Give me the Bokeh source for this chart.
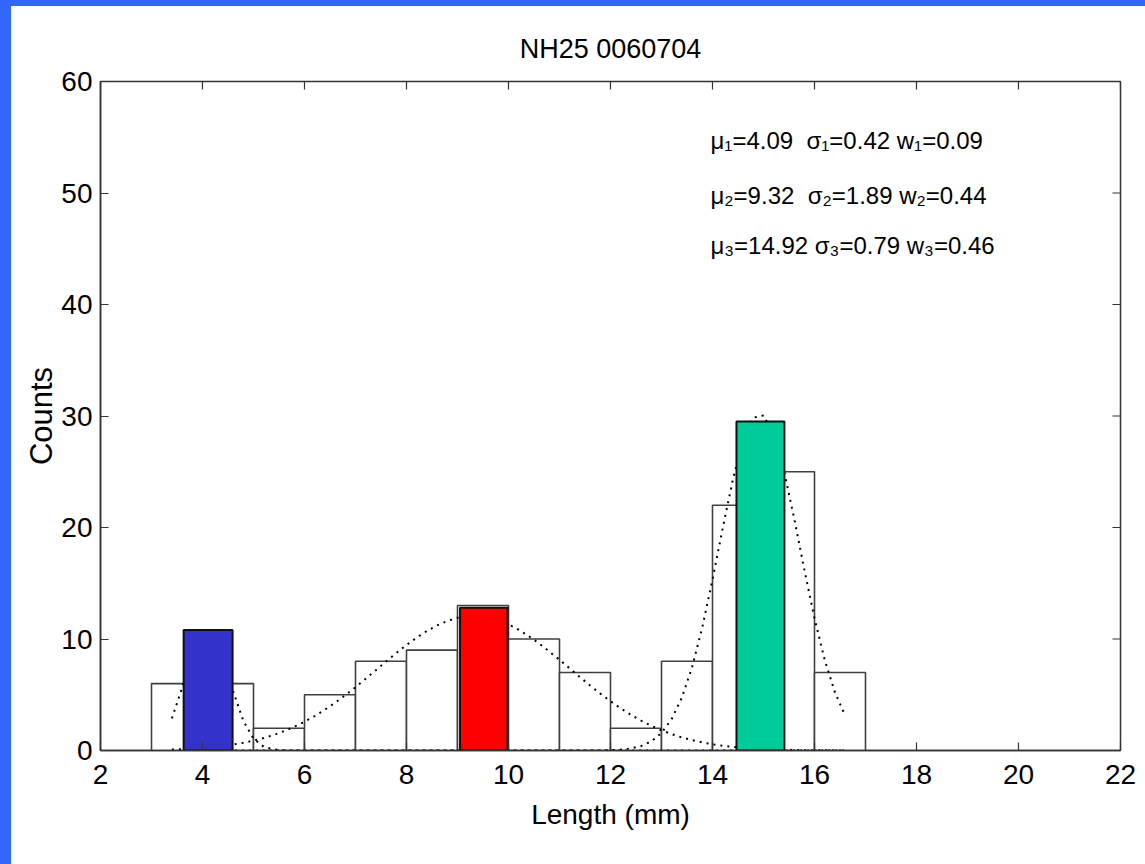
from bokeh.plotting import figure
from bokeh.models import Range1d, FixedTicker, Label, Spacer, ColumnDataSource
from bokeh.layouts import column, row
from bokeh.embed import file_html
from bokeh.resources import INLINE

# ---------------- data ----------------
title_text = "NH25 0060704"
bin_left = [3, 4, 5, 6, 7, 8, 9, 10, 11, 12, 13, 14, 15, 16]
bin_right = [4, 5, 6, 7, 8, 9, 10, 11, 12, 13, 14, 15, 16, 17]
counts = [6, 6, 2, 5, 8, 9, 13, 10, 7, 2, 8, 22, 25, 7]

mode_left = [3.63, 9.05, 14.47]
mode_right = [4.59, 9.98, 15.41]
mode_height = [10.8, 12.8, 29.5]
mode_colors = ["#3333cc", "#ff0000", "#00cc99"]

curve_x = [3.4, 3.6, 3.8, 4.0, 4.2, 4.4, 4.6, 4.8, 5.0, 5.2, 5.4, 5.6, 5.8, 6.0,
           6.2, 6.4, 6.6, 6.8, 7.0, 7.2, 7.4, 7.6, 7.8, 8.0, 8.2, 8.4, 8.6, 8.8,
           9.0, 9.2, 9.4, 9.6, 9.8, 10.0, 10.2, 10.4, 10.6, 10.8, 11.0, 11.2,
           11.4, 11.6, 11.8, 12.0, 12.2, 12.4, 12.6, 12.8, 13.0, 13.2, 13.4,
           13.6, 13.8, 14.0, 14.2, 14.4, 14.6, 14.8, 15.0, 15.2, 15.4, 15.6,
           15.8, 16.0, 16.2, 16.4, 16.6]
curve1 = [2.88, 5.62, 8.76, 10.86, 10.73, 8.46, 5.32, 2.66, 1.06, 0.34, 0.09, 0.02] + [0.0] * 55
curve2 = [0.09, 0.12, 0.17, 0.23, 0.31, 0.41, 0.53, 0.69, 0.89,
          1.12, 1.40, 1.74, 2.13, 2.58, 3.09, 3.66, 4.29, 4.96, 5.68,
          6.43, 7.20, 7.98, 8.74, 9.46, 10.12, 10.72, 11.22, 11.62, 11.90,
          12.05, 12.06, 11.94, 11.69, 11.31, 10.83, 10.25, 9.60, 8.88, 8.13,
          7.36, 6.58, 5.83, 5.10, 4.42, 3.78, 3.20, 2.68, 2.22, 1.81,
          1.47, 1.17, 0.93, 0.73, 0.56, 0.43, 0.33, 0.24, 0.18, 0.13,
          0.10, 0.07, 0.05, 0.03, 0.02, 0.02, 0.01, 0.01]
curve3 = [0.0] * 42 + [0.01, 0.03, 0.08, 0.19, 0.40, 0.82, 1.58, 2.82, 4.75, 7.48,
                       11.05, 15.33, 19.94, 24.32, 27.82, 29.85, 30.05, 28.36, 25.11,
                       20.85, 16.24, 11.86, 8.13, 5.23, 3.15]

param_lines = ["μ₁=4.09\u00a0 σ₁=0.42 w₁=0.09",
               "μ₂=9.32\u00a0 σ₂=1.89 w₂=0.44",
               "μ₃=14.92 σ₃=0.79 w₃=0.46"]
param_y = [54.7, 49.8, 45.3]

x_ticks = [2, 4, 6, 8, 10, 12, 14, 16, 18, 20, 22]
y_ticks = [0, 10, 20, 30, 40, 50, 60]

FONT = "Liberation Sans"
AX = "#333333"

# ---------------- figure ----------------
p = figure(width=1134, height=858, output_backend="svg", toolbar_location=None,
           x_range=Range1d(x_ticks[0], x_ticks[-1]), y_range=Range1d(y_ticks[0], y_ticks[-1]),
           min_border_left=89, min_border_right=25, min_border_top=75, min_border_bottom=114,
           title=title_text)
p.title.align = "center"
p.title.text_font = FONT
p.title.text_font_size = "27px"
p.title.text_font_style = "normal"
p.title.text_color = "black"
p.title.standoff = 36
p.grid.visible = False
p.outline_line_color = AX
p.outline_line_width = 1.5
p.background_fill_color = "white"
p.border_fill_color = "white"

for ax in (p.xaxis[0], p.yaxis[0]):
    ax.major_tick_in = 8
    ax.major_tick_out = 0
    ax.minor_tick_line_color = None
    ax.axis_line_color = AX
    ax.axis_line_width = 1.5
    ax.major_tick_line_color = AX
    ax.major_tick_line_width = 1.2
    ax.major_label_text_font = FONT
    ax.major_label_text_font_size = "28px"
    ax.major_label_text_color = "black"
    ax.axis_label_text_font = FONT
    ax.axis_label_text_font_size = "28px"
    ax.axis_label_text_font_style = "normal"
    ax.axis_label_text_color = "black"

p.xaxis[0].ticker = FixedTicker(ticks=x_ticks)
p.yaxis[0].ticker = FixedTicker(ticks=y_ticks)
p.xaxis[0].axis_label = "Length (mm)"
p.yaxis[0].axis_label = "Counts"
p.yaxis[0].axis_label_text_font_size = "31px"
p.xaxis[0].major_label_standoff = 14
p.yaxis[0].major_label_standoff = 8
p.xaxis[0].axis_label_standoff = 12
p.yaxis[0].axis_label_standoff = -1

# mirrored inward ticks on top and right edges
p.ray(x=x_ticks, y=[y_ticks[-1]] * len(x_ticks), length=8, length_units="screen",
      angle=-90, angle_units="deg", line_color=AX, line_width=1.2)
p.ray(x=[x_ticks[-1]] * len(y_ticks), y=y_ticks, length=8, length_units="screen",
      angle=180, angle_units="deg", line_color=AX, line_width=1.2)

# histogram
hist = ColumnDataSource(dict(left=bin_left, right=bin_right, top=counts, bottom=[0] * len(counts)))
p.quad(left="left", right="right", top="top", bottom="bottom", source=hist,
       fill_color="white", line_color="#404040", line_width=1.6)

# mixture component curves
for cy in (curve1, curve2, curve3):
    p.line(curve_x, cy, line_color="black", line_width=2, line_dash="2 5")

# highlighted mode bars
modes = ColumnDataSource(dict(left=mode_left, right=mode_right, top=mode_height,
                              bottom=[0] * 3, color=mode_colors))
p.quad(left="left", right="right", top="top", bottom="bottom", source=modes,
       fill_color="color", line_color="#111111", line_width=2)

for txt, yy in zip(param_lines, param_y):
    p.add_layout(Label(x=13.96, y=yy, text=txt, text_font=FONT, text_font_size="24px",
                       text_color="black", text_baseline="alphabetic"))

top_strip = Spacer(width=1145, height=6, styles={"background-color": "#3366ff"})
left_strip = Spacer(width=11, height=858, styles={"background-color": "#3366ff"})
layout = column(top_strip, row(left_strip, p, spacing=0), spacing=0)

open("out.html", "w").write(file_html(layout, INLINE))
